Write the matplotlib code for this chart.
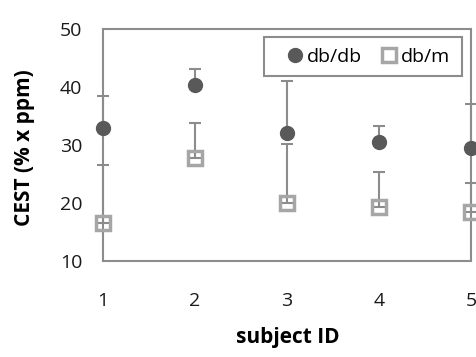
import matplotlib
matplotlib.use("Agg")
import matplotlib.pyplot as plt
from matplotlib.lines import Line2D
from matplotlib.patches import Rectangle

subjects = [1, 2, 3, 4, 5]
dbdb_mean = [32.9, 40.3, 32.1, 30.6, 29.4]
dbdb_err = [5.5, 2.8, 8.9, 2.7, 7.7]
dbm_mean = [16.5, 27.8, 20.0, 19.3, 18.5]
dbm_err = [10.1, 6.0, 10.2, 6.1, 5.0]
yticks = [10, 20, 30, 40, 50]

plt.rcParams['font.family'] = ['Open Sans', 'DejaVu Sans']

W, H = 477, 357
fig = plt.figure(figsize=(W/100, H/100), dpi=100)
ax = fig.add_axes([103/W, 1-261/H, (471-103)/W, (261-29)/H])

ecol = '#8c8c8c'
ax.errorbar(subjects, dbdb_mean, yerr=[[0]*5, dbdb_err], fmt='none',
            ecolor=ecol, elinewidth=1.5, capsize=4, capthick=1.5, zorder=2, clip_on=False)
ax.errorbar(subjects, dbm_mean, yerr=[[0]*5, dbm_err], fmt='none',
            ecolor=ecol, elinewidth=1.5, capsize=4, capthick=1.5, zorder=2, clip_on=False)
ax.plot(subjects, dbdb_mean, 'o', color='#595959', markersize=10, zorder=3, clip_on=False)
ax.plot(subjects, dbm_mean, 's', markerfacecolor='none', markeredgecolor='#a6a6a6',
        markeredgewidth=2.5, markersize=10.5, zorder=3, clip_on=False)

ax.set_xlim(1, 5)
ax.set_ylim(10, 50)
ax.set_yticks(yticks)
ax.set_xticks(subjects)
ax.tick_params(length=0, labelsize=14, colors='#1a1a1a')
ax.tick_params(axis='y', pad=15)
ax.tick_params(axis='x', pad=22)
for s in ax.spines.values():
    s.set_color('#8c8c8c')
    s.set_linewidth(1.5)

fig.text(25/W, 1-147.5/H, 'CEST (% x ppm)', fontsize=15, fontweight='bold',
         rotation=90, ha='center', va='center')
fig.text(288/W, 1-337/H, 'subject ID', fontsize=15, fontweight='bold',
         ha='center', va='center')

# legend frame
fig.patches.append(Rectangle((264/W, 1-76/H), (462-264)/W, (76-37)/H,
                             transform=fig.transFigure, facecolor='white',
                             edgecolor='#8c8c8c', linewidth=1.5, zorder=5))

handles = [Line2D([], [], marker='o', linestyle='none', color='#595959', markersize=10),
           Line2D([], [], marker='s', linestyle='none', markerfacecolor='none',
                  markeredgecolor='#a6a6a6', markeredgewidth=2.5, markersize=10)]
leg = fig.legend(handles, ['db/db', 'db/m'], ncol=2, loc='center left',
                 bbox_to_anchor=(287/W, 1-57/H), fontsize=14,
                 frameon=False, handlelength=0.8, handletextpad=0.2,
                 columnspacing=1.0, borderpad=0, borderaxespad=0)
leg.set_zorder(6)

fig.savefig('out.png', dpi=100)
